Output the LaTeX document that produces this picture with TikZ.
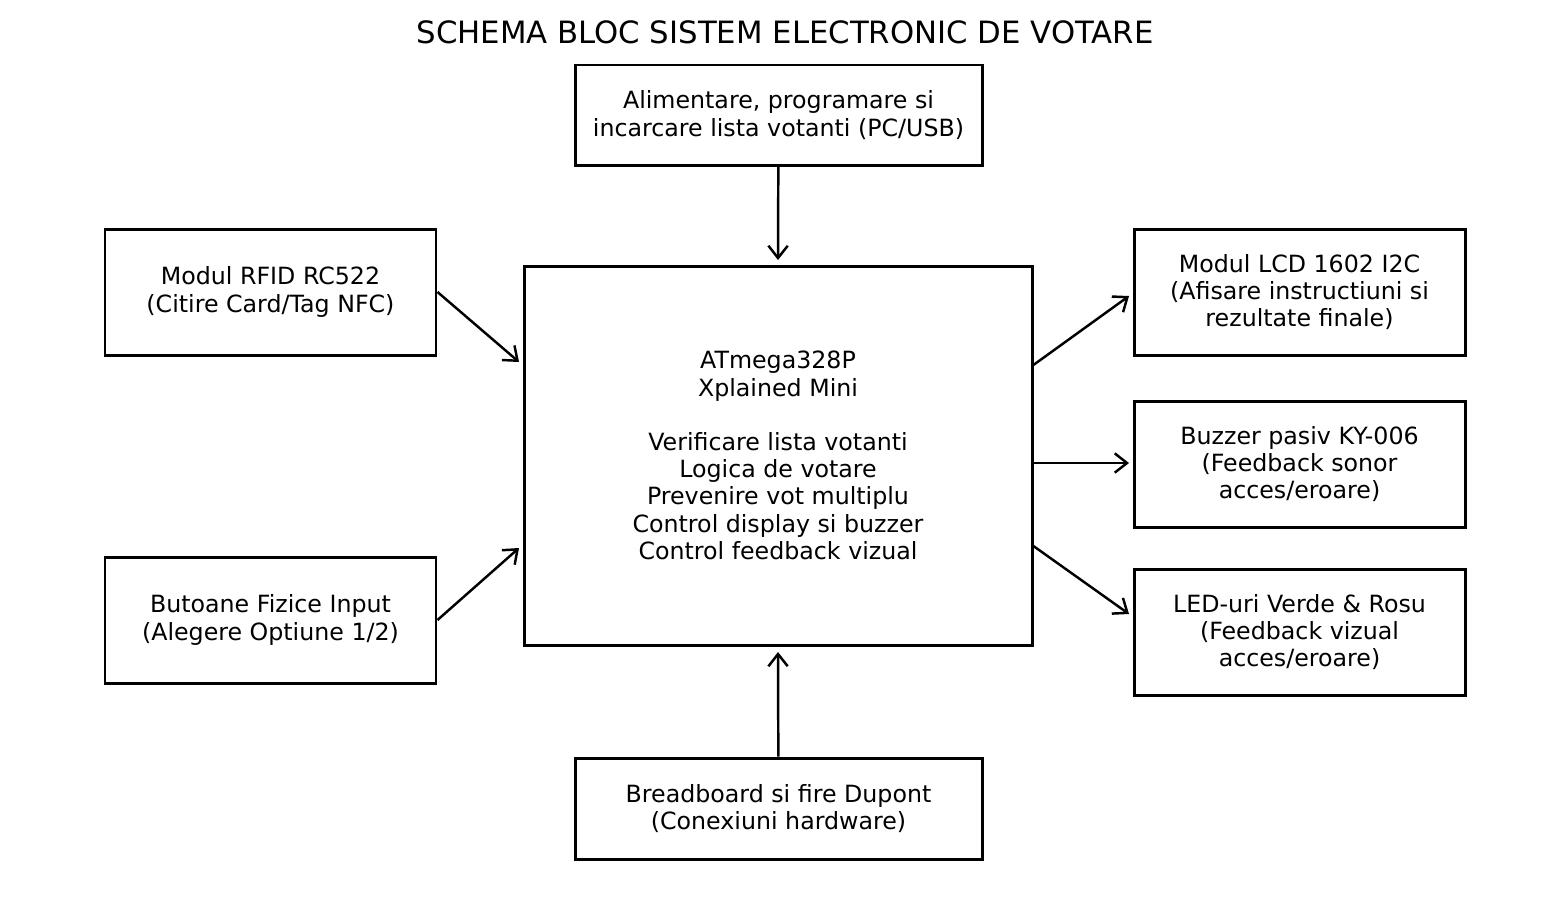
\documentclass[tikz,border=0pt]{standalone}
\usepackage{fontspec}
\setmainfont{DejaVu Sans}
\usetikzlibrary{arrows.meta,positioning}
\tikzset{
  blk/.style={draw, line width=1.7pt, align=center, inner sep=0pt,
    font=\fontsize{13.5}{15.5}\selectfont},
  link/.style={-{Straight Barb[length=7pt,width=11pt,line width=1.4pt]}, line width=1.4pt},
}
\begin{document}
\begin{tikzpicture}[x=0.02cm, y=-0.02cm]
  \useasboundingbox[fill=white] (0,0) rectangle (1551,907);
  % --- title ---
  \node[font=\fontsize{17.5}{20}\selectfont] (title) at (785,32) {SCHEMA BLOC SISTEM ELECTRONIC DE VOTARE};
  % --- blocks ---
  \node[blk, minimum width=407*0.02cm, minimum height=100*0.02cm] (pc) at (778.5,115)
    {Alimentare, programare si\\incarcare lista votanti (PC/USB)};
  \node[blk, minimum width=508*0.02cm, minimum height=379*0.02cm] (mcu) at (778,455.5)
    {ATmega328P\\Xplained Mini\\[\baselineskip]Verificare lista votanti\\Logica de votare\\Prevenire vot multiplu\\Control display si buzzer\\Control feedback vizual};
  \node[blk, minimum width=331*0.02cm, minimum height=126*0.02cm] (rfid) at (270.5,292)
    {Modul RFID RC522\\(Citire Card/Tag NFC)};
  \node[blk, minimum width=331*0.02cm, minimum height=126*0.02cm] (btn) at (270.5,620)
    {Butoane Fizice Input\\(Alegere Optiune 1/2)};
  \node[blk, minimum width=331*0.02cm, minimum height=126*0.02cm] (lcd) at (1299.5,292)
    {Modul LCD 1602 I2C\\(Afisare instructiuni si\\rezultate finale)};
  \node[blk, minimum width=331*0.02cm, minimum height=126*0.02cm] (buz) at (1299.5,464)
    {Buzzer pasiv KY-006\\(Feedback sonor\\acces/eroare)};
  \node[blk, minimum width=331*0.02cm, minimum height=126*0.02cm] (led) at (1299.5,632)
    {LED-uri Verde \& Rosu\\(Feedback vizual\\acces/eroare)};
  \node[blk, minimum width=407*0.02cm, minimum height=101*0.02cm] (board) at (778.5,808.5)
    {Breadboard si fire Dupont\\(Conexiuni hardware)};
  % --- arrow end points ---
  \coordinate (inRfid) at (519,362);
  \coordinate (inBtn) at (519,548);
  \coordinate (outLcd) at (1129,296);
  \coordinate (outBuz) at (1129,463);
  \coordinate (outLed) at (1129,614);
  \coordinate (inPc) at (778,260);
  \coordinate (inBoard) at (778,652);
  \coordinate (mLcd) at (1032,366);
  \coordinate (mBuz) at (1032,463);
  \coordinate (mLed) at (1032,545);
  % --- connectors ---
  \draw[link] (pc) -- (inPc);
  \draw[link] (board) -- (inBoard);
  \draw[link] (rfid.east) -- (inRfid);
  \draw[link] (btn.east) -- (inBtn);
  \draw[link] (mLcd) -- (outLcd);
  \draw[link] (mBuz) -- (outBuz);
  \draw[link] (mLed) -- (outLed);
\end{tikzpicture}
\end{document}
